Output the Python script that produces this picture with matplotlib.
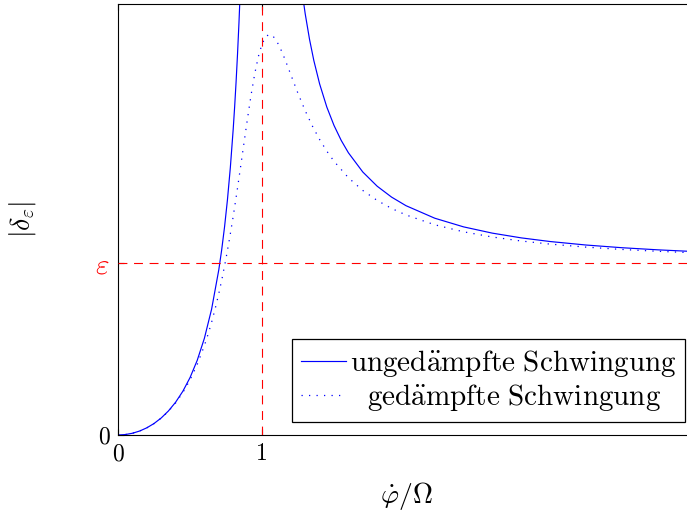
import matplotlib
matplotlib.use("Agg")
import matplotlib.pyplot as plt

plt.rcParams["mathtext.fontset"] = "cm"
plt.rcParams["font.family"] = ["cmr10", "DejaVu Serif"]
plt.rcParams["axes.unicode_minus"] = False

# frequency ratio and amplitude |delta_eps| in units of eps
eta_left = [0.0, 0.05, 0.1, 0.15, 0.2, 0.25, 0.3, 0.35, 0.4, 0.45, 0.5, 0.55, 0.6, 0.65,
            0.7, 0.72, 0.74, 0.76, 0.78, 0.8, 0.81, 0.82, 0.83, 0.84, 0.85, 0.87]
undamped_left = [0.0, 0.0025, 0.0101, 0.0230, 0.0417, 0.0667, 0.0989, 0.1396, 0.1905,
                 0.2539, 0.3333, 0.4337, 0.5625, 0.7316, 0.9608, 1.0764, 1.2104, 1.3674,
                 1.5536, 1.7778, 1.9078, 2.0525, 2.2144, 2.3967, 2.6036, 3.1135]
eta_right = [1.2, 1.22, 1.24, 1.26, 1.28, 1.3, 1.33, 1.36, 1.4, 1.45, 1.5, 1.55, 1.6,
             1.7, 1.8, 1.9, 2.0, 2.2, 2.4, 2.6, 2.8, 3.0, 3.25, 3.5, 3.75, 4.0]
undamped_right = [3.2727, 3.0475, 2.8601, 2.7018, 2.5664, 2.4493, 2.3006, 2.1770, 2.0417,
                  1.9070, 1.8000, 1.7130, 1.6410, 1.5291, 1.4464, 1.3831, 1.3333, 1.2604,
                  1.2101, 1.1736, 1.1462, 1.1250, 1.1046, 1.0889, 1.0766, 1.0667]

eta_damped = [0.0, 0.05, 0.1, 0.15, 0.2, 0.25, 0.3, 0.35, 0.4, 0.45, 0.5, 0.55, 0.6,
              0.625, 0.65, 0.675, 0.7, 0.725, 0.75, 0.775, 0.8, 0.825, 0.85, 0.875, 0.9,
              0.925, 0.95, 0.975, 1.0, 1.025, 1.05, 1.075, 1.1, 1.125, 1.15, 1.175, 1.2,
              1.25, 1.3, 1.35, 1.4, 1.45, 1.5, 1.6, 1.7, 1.8, 1.9, 2.0, 2.2, 2.4, 2.6,
              2.8, 3.0, 3.25, 3.5, 3.75, 4.0]
damped = [0.0, 0.0025, 0.0101, 0.0230, 0.0415, 0.0662, 0.0979, 0.1375, 0.1864, 0.2464,
          0.3199, 0.4097, 0.5200, 0.5843, 0.6556, 0.7347, 0.8224, 0.9195, 1.0265, 1.1437,
          1.2711, 1.4077, 1.5514, 1.6986, 1.8442, 1.9813, 2.1026, 2.2014, 2.2727, 2.3150,
          2.3297, 2.3208, 2.2934, 2.2530, 2.2040, 2.1505, 2.0952, 1.9861, 1.8856, 1.7963,
          1.7183, 1.6506, 1.5917, 1.4958, 1.4218, 1.3637, 1.3172, 1.2794, 1.2222, 1.1814,
          1.1511, 1.1280, 1.1100, 1.0924, 1.0788, 1.0681, 1.0594]

fig = plt.figure(figsize=(6.87, 5.15), dpi=100)
ax = fig.add_axes([118 / 687, 80 / 515, 576 / 687, 431 / 515])

blue = "#0000ff"
ax.plot(eta_left, undamped_left, color=blue, lw=0.85,
        label=r"$\mathrm{unged\ddot{a}mpfte\ Schwingung}$")
ax.plot(eta_right, undamped_right, color=blue, lw=0.85)
ax.plot(eta_damped, damped, color=blue, lw=0.9, linestyle=(0, (1, 5)),
        label=r"$\mathrm{\ \ ged\ddot{a}mpfte\ Schwingung}$")

ax.axhline(1.0, color="red", lw=0.8, linestyle=(0, (8, 6)), zorder=5)
ax.axvline(1.0, color="red", lw=0.8, linestyle=(0, (8, 6)), zorder=5)

ax.set_xlim(0, 4)
ax.set_ylim(0, 2.506)

ax.set_xticks([0, 1])
ax.set_xticklabels(["0", "1"])
ax.set_yticks([0, 1])
ax.set_yticklabels(["0", r"$\varepsilon$"])
ax.tick_params(direction="in", length=4, width=0.8, labelsize=17, pad=6,
               top=True, right=True)
eps_label = ax.get_yticklabels()[1]
eps_label.set_color("red")
eps_label.set_fontsize(21)

ax.set_xlabel(r"$\dot{\varphi}/\Omega$", fontsize=20)
ax.xaxis.set_label_coords(0.5, -0.105)
ax.set_ylabel(r"$|\delta_\varepsilon|$", fontsize=20)
ax.yaxis.set_label_coords(-0.139, 0.5)

for s in ax.spines.values():
    s.set_linewidth(0.8)

leg = ax.legend(loc="lower right", bbox_to_anchor=(0.984, 0.030), borderaxespad=0,
                fancybox=False, edgecolor="black", framealpha=1, fontsize=21,
                handlelength=1.55, handletextpad=0.12, labelspacing=0.12,
                borderpad=0.3)
leg.get_frame().set_linewidth(0.9)

fig.savefig("out.png", dpi=100)
